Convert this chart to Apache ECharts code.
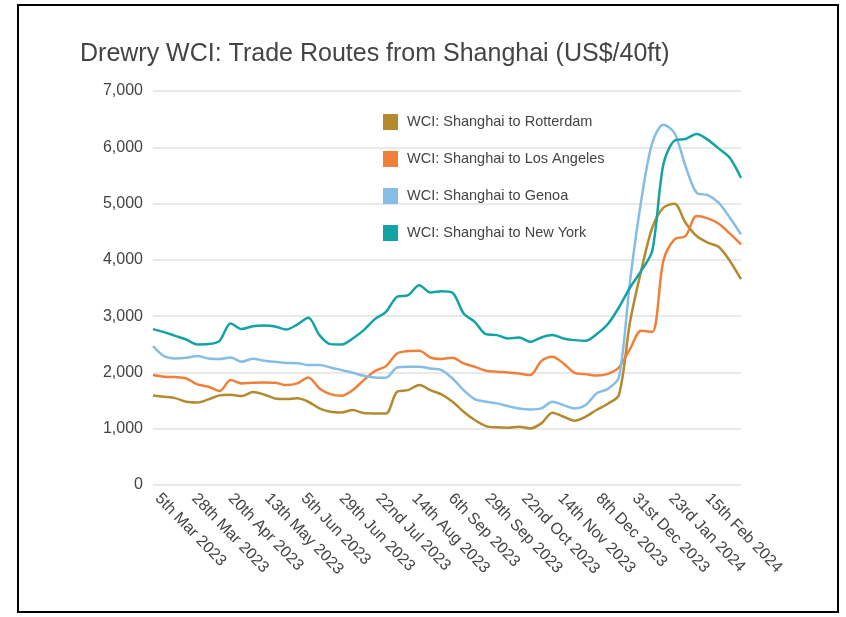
<!DOCTYPE html>
<html>
<head>
    <meta charset="utf-8">
    <title>Drewry WCI</title>
    <script src="https://cdn.jsdelivr.net/npm/echarts@6/dist/echarts.min.js"></script>
    <style>
        html, body { margin: 0; padding: 0; background: #fff; }
    </style>
</head>
<body>
    <div id="main" style="width: 846px;height:617px;"></div>
    <script type="text/javascript">
    var myChart = echarts.init(document.getElementById('main'));

    // weekly readings, first one on Thu 2nd Mar 2023 (day 0)
    var routes = ['WCI: Shanghai to Rotterdam', 'WCI: Shanghai to Los Angeles', 'WCI: Shanghai to Genoa', 'WCI: Shanghai to New York'];
    var colors = ['#b38a2e', '#f07f3a', '#86bde5', '#12a4a4'];

    var rotterdam = [1592, 1568, 1544, 1479, 1467, 1521, 1592, 1604, 1580, 1651, 1609, 1538, 1527, 1540,
        1479, 1361, 1302, 1290, 1331, 1278, 1272, 1272, 1657, 1686, 1775, 1686, 1610, 1479, 1302, 1154,
        1047, 1024, 1018, 1036, 1006, 1095, 1284, 1213, 1142, 1213, 1337, 1443, 1600, 2900, 3804, 4571,
        4926, 4996, 4660, 4424, 4306, 4229, 3981, 3656];
    var losAngeles = [1953, 1923, 1917, 1893, 1787, 1746, 1669, 1864, 1805, 1817, 1822, 1817, 1775, 1805,
        1911, 1716, 1615, 1586, 1686, 1864, 2024, 2112, 2337, 2379, 2385, 2266, 2240, 2260, 2160, 2101,
        2030, 2012, 2000, 1982, 1953, 2201, 2278, 2160, 1994, 1970, 1944, 1974, 2092, 2417, 2742, 2720,
        3981, 4365, 4424, 4780, 4737, 4642, 4465, 4276];
    var genoa = [2467, 2290, 2249, 2260, 2290, 2249, 2237, 2266, 2189, 2243, 2207, 2189, 2166, 2165,
        2130, 2130, 2089, 2041, 1994, 1941, 1911, 1905, 2089, 2101, 2101, 2071, 2041, 1893, 1686, 1527,
        1479, 1450, 1402, 1361, 1343, 1361, 1479, 1420, 1361, 1420, 1632, 1708, 1915, 3627, 5044, 6077,
        6401, 6254, 5664, 5191, 5150, 5014, 4749, 4453];
    var newYork = [2770, 2716, 2650, 2585, 2497, 2503, 2562, 2870, 2770, 2822, 2834, 2817, 2763, 2850,
        2970, 2663, 2503, 2497, 2604, 2751, 2947, 3077, 3343, 3373, 3550, 3420, 3444, 3414, 3047, 2899,
        2680, 2663, 2604, 2621, 2544, 2621, 2663, 2604, 2574, 2562, 2682, 2860, 3155, 3509, 3804, 4160,
        5693, 6118, 6148, 6236, 6136, 5976, 5811, 5457];

    var tickDays = [3, 26, 49, 72, 95, 119, 142, 165, 188, 211, 234, 257, 281, 304, 327, 350];
    var tickLabels = ['5th Mar 2023', '28th Mar 2023', '20th Apr 2023', '13th May 2023', '5th Jun 2023',
        '29th Jun 2023', '22nd Jul 2023', '14th Aug 2023', '6th Sep 2023', '29th Sep 2023', '22nd Oct 2023',
        '14th Nov 2023', '8th Dec 2023', '31st Dec 2023', '23rd Jan 2024', '15th Feb 2024'];

    var allData = [rotterdam, losAngeles, genoa, newYork];
    var font = 'Liberation Sans, Arial, sans-serif';

    option = {
        backgroundColor: '#fff',
        animation: false,
        color: colors,
        title: {
            text: 'Drewry WCI: Trade Routes from Shanghai (US$/40ft)',
            left: 75,
            top: 37,
            textStyle: { fontFamily: font, fontSize: 25, fontWeight: 'normal', color: '#444' }
        },
        legend: {
            orient: 'vertical',
            left: 383,
            top: 114,
            padding: 0,
            itemWidth: 15,
            itemHeight: 16,
            itemGap: 21,
            icon: 'rect',
            data: routes,
            textStyle: { fontFamily: font, fontSize: 14.5, color: '#444', padding: [0, 0, 0, 4] }
        },
        grid: { left: 153, right: 105, top: 91, bottom: 132 },
        xAxis: {
            type: 'value',
            min: 0,
            max: 371,
            axisLine: { show: false },
            axisTick: { show: false },
            splitLine: { show: false },
            axisLabel: {
                customValues: tickDays,
                rotate: -46,
                margin: 11,
                fontFamily: font,
                fontSize: 16,
                color: '#444',
                formatter: function (v) {
                    var i = tickDays.indexOf(v);
                    return i < 0 ? '' : tickLabels[i];
                }
            }
        },
        yAxis: {
            type: 'value',
            min: 0,
            max: 7000,
            interval: 1000,
            axisLine: { show: false },
            axisTick: { show: false },
            splitLine: { lineStyle: { color: '#e9e9e9', width: 2 } },
            axisLabel: {
                margin: 10,
                fontFamily: font,
                fontSize: 16,
                color: '#444',
                formatter: function (v) { return v.toLocaleString('en-US'); }
            }
        },
        graphic: [{
            type: 'rect',
            shape: { x: 18, y: 5, width: 820, height: 607 },
            style: { fill: 'none', stroke: '#000', lineWidth: 2 },
            silent: true
        }],
        series: []
    };

    echarts.util.each(routes, function (name, idx) {
        option.series.push({
            name: name,
            type: 'line',
            smooth: 0.3,
            showSymbol: false,
            lineStyle: { width: 2.5 },
            data: allData[idx].map(function (v, k) { return [k * 7, v]; })
        });
    });

    myChart.setOption(option);
    </script>
</body>
</html>
